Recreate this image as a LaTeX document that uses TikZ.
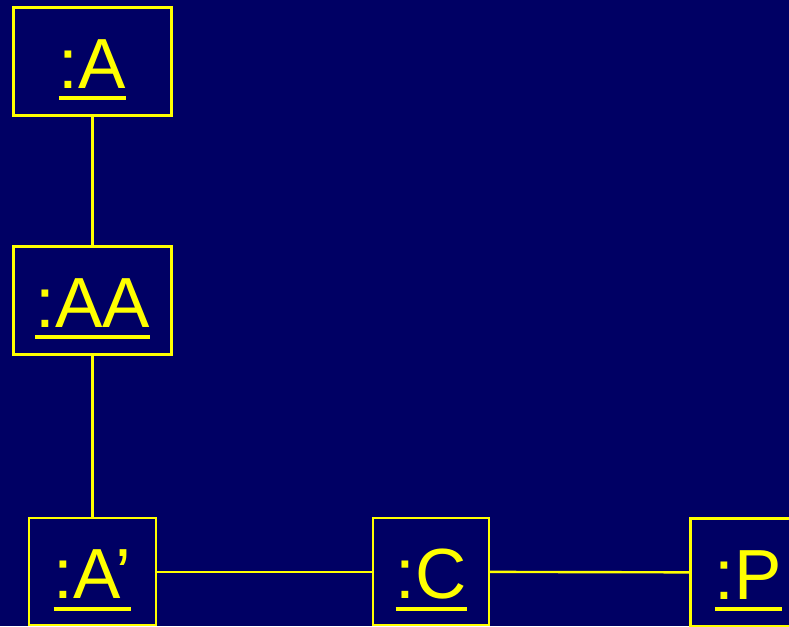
\documentclass[tikz,border=0pt]{standalone}
\usepackage{fontspec}
\setmainfont{Liberation Sans}
\definecolor{navy}{RGB}{0,0,100}
\definecolor{yel}{RGB}{255,255,0}
\newcommand\ulabel[1]{\setbox0\hbox{#1}\rlap{\rule[-12pt]{\wd0}{4pt}}\box0}
\tikzset{
  obj/.style={draw=yel, line width=2.4pt, text=yel, inner sep=0pt,
    font=\fontsize{71}{71}\selectfont, text height=60pt, text depth=6.5pt},
  link/.style={draw=yel, line width=2.4pt}
}
\begin{document}
\begin{tikzpicture}[x=1pt,y=1pt]
\useasboundingbox (0,0) rectangle (789,626);
\clip (0,0) rectangle (789,626);
\fill[navy] (0,0) rectangle (789,626);
\node[obj, minimum width=158pt, minimum height=108pt] (a) at (92.5,564.5) {\ulabel{:A}};
\node[obj, minimum width=158pt, minimum height=108pt] (aa) at (92.5,325.5) {\ulabel{:AA}};
\node[obj, minimum width=127pt, minimum height=107pt] (ap) at (92.5,54.25) {\ulabel{:A’}};
\node[obj, minimum width=116pt, minimum height=107pt] (c) at (431,54.25) {\ulabel{:C}};
\node[obj, minimum width=116pt, minimum height=108pt] (p) at (748.5,53.5) {\ulabel{:P}};
\draw[link] (a) -- (aa);
\draw[link] (aa) -- (ap);
\draw[link] (ap) -- (c);
\draw[link] (c) -- (p);
\end{tikzpicture}
\end{document}
